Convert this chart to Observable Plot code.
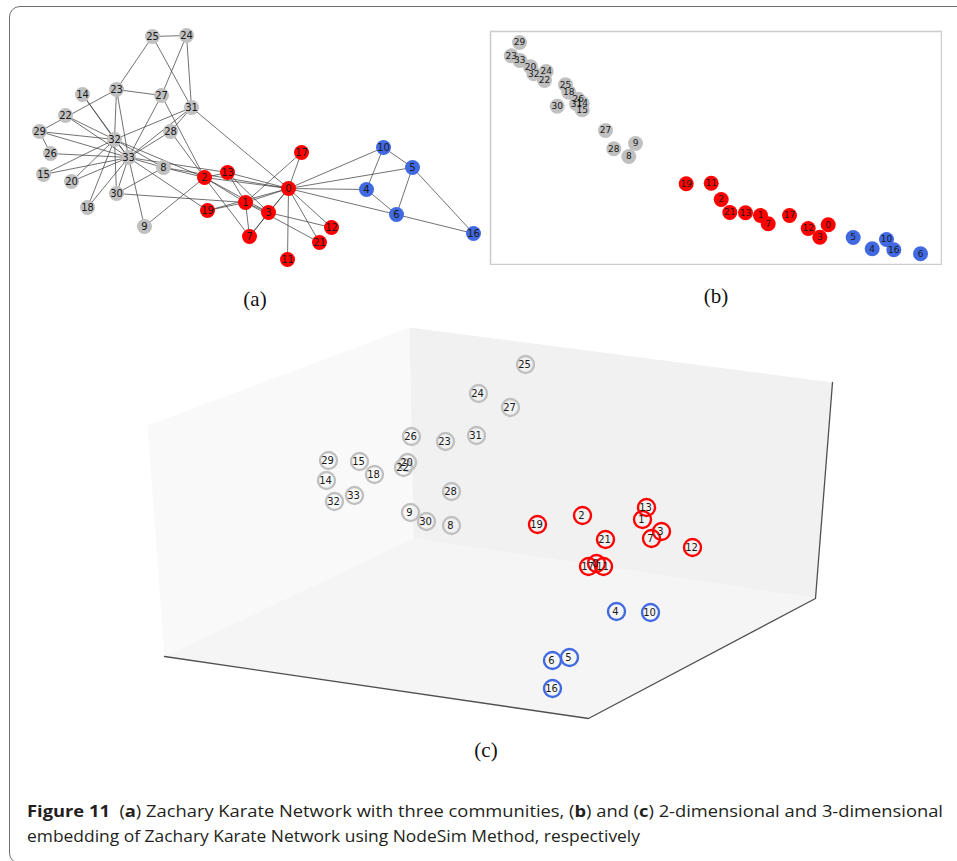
<!DOCTYPE html>
<html><head><meta charset="utf-8">
<script src="https://cdn.jsdelivr.net/npm/d3@7"></script>
<script src="https://cdn.jsdelivr.net/npm/@observablehq/plot@0.6"></script>
<style>
html,body{margin:0;padding:0;background:#fff;overflow:hidden;}
#fig{position:relative;width:957px;height:861px;overflow:hidden;background:#fff;}
#frame{position:absolute;left:9px;top:6px;width:990px;height:858px;border:1.5px solid #6e6e6e;border-radius:11px;box-sizing:border-box;}
.panel{position:absolute;}
.sub{position:absolute;font-family:"Liberation Serif","DejaVu Serif",serif;font-size:21px;color:#111;transform:translate(-50%,-50%);line-height:1;}
#cap{position:absolute;left:0;top:790px;}
</style></head><body>
<div id="fig">
  <div id="frame"></div>
  <div id="pa" class="panel" style="left:20px;top:20px"></div>
  <div id="pb" class="panel" style="left:489px;top:30px"></div>
  <div id="pc" class="panel" style="left:130px;top:320px"></div>
  <div class="sub" style="left:255px;top:299px">(a)</div>
  <div class="sub" style="left:716px;top:296px">(b)</div>
  <div class="sub" style="left:486px;top:750px">(c)</div>
  <svg id="cap" width="957" height="71" xmlns="http://www.w3.org/2000/svg"></svg>
</div>
<script>
// ---- data ----
const nodeIds = d3.range(34);
const redNodes = [0,1,2,3,7,11,12,13,17,19,21];
const blueNodes = [4,5,6,10,16];
const communityNames = ["Community 1","Community 2","Community 3"];
const communityColors = ["#c0c0c0","#ff0000","#4169e1"];

// Zachary karate club edges
const edges = [
 [0,1],[0,2],[0,3],[0,4],[0,5],[0,6],[0,7],[0,8],[0,10],[0,11],[0,12],[0,13],[0,17],[0,19],[0,21],[0,31],
 [1,2],[1,3],[1,7],[1,13],[1,17],[1,19],[1,21],[1,30],
 [2,3],[2,7],[2,8],[2,9],[2,13],[2,27],[2,28],[2,32],
 [3,7],[3,12],[3,13],[4,6],[4,10],[5,6],[5,10],[5,16],[6,16],
 [8,30],[8,32],[8,33],[9,33],[13,33],[14,32],[14,33],[15,32],[15,33],
 [18,32],[18,33],[19,33],[20,32],[20,33],[22,32],[22,33],
 [23,25],[23,27],[23,29],[23,32],[23,33],[24,25],[24,27],[24,31],[25,31],
 [26,29],[26,33],[27,33],[28,31],[28,33],[29,32],[29,33],[30,32],[30,33],[31,32],[31,33],[32,33]
];

// (a) network layout (layout units)
const layoutAX = [268,225,184,248,346,392,376,229,143,124,363,267,311,207,62,23,453,281,67,187,51,299,45,96,166,132,30,141,150,19,96,171,94,108];
const layoutAY = [168,182,157,192,169,147,194,216,147,206,127,239,207,152,74,154,213,132,187,190,161,222,95,69,15,16,133,75,111,111,173,87,119,137];

// (b) 2-D embedding
const embed2X = [337.7,270,230.7,329.3,381.7,362.7,430,277.7,138.3,145,396,220.7,317.7,255,91.7,91.7,403.3,299,78.3,195.7,40,239.3,54,20.7,55.7,75,87.7,115,123.3,29,66.7,86,43.3,29.3];
const embed2Y = [193.3,184,168,205.7,217.3,206,222.3,192.3,125,112,208,151.7,197,181.3,71.7,78.3,218.3,184,60.7,152.3,35.3,181,49,24.3,40,53.3,67.7,99,117.3,11,74.7,72.3,42.3,29];

// (c) 3-D embedding, projected
const embed3X = [466,512,452,531,486,439,422,521,321,280,520,473,562,516,196,229,422,458,244,407,277,475,273,315,348,395,281,380,321,198,296,346,204,224];
const embed3Y = [243,199,195,211,291,337,340,218,205,192,292,246,227,187,160,141,368,246,154,204,142,219,147,121,73,44,116,87,171,140,201,115,181,175];

// (c) 3-D box panes (projected corners)
const paneLeftX = [17,279,283,34],  paneLeftY = [105,7,218,336];
const paneBackX = [279,702,685,283], paneBackY = [7,62,278,218];
const paneFloorX = [34,283,685,458], paneFloorY = [336,218,278,398];
const axisLineX = [34,458,685,702],  axisLineY = [336,398,278,62];

const captionParts = [
  ["Figure 11", true], ["\u00a0\u00a0(", false], ["a", true], [") Zachary Karate Network with three communities, (", false],
  ["b", true], [") and (", false], ["c", true], [") 2-dimensional and 3-dimensional", false]
];
const captionLine2 = "embedding of Zachary Karate Network using NodeSim Method, respectively";

// ---- build ----
const comm = i => redNodes.includes(i) ? communityNames[1] : blueNodes.includes(i) ? communityNames[2] : communityNames[0];
const colorScale = {type: "ordinal", domain: communityNames, range: communityColors};
const font = {fontFamily: "DejaVu Sans"};

// (a)
const nodesA = nodeIds.map(i => ({id: i, x: layoutAX[i], y: layoutAY[i], c: comm(i)}));
const linksA = edges.map(([s, t]) => ({x1: layoutAX[s], y1: layoutAY[s], x2: layoutAX[t], y2: layoutAY[t]}));
document.getElementById("pa").append(Plot.plot({
  width: 470, height: 260, margin: 0, style: font,
  x: {domain: [0, 470], axis: null},
  y: {domain: [0, 260], reverse: true, axis: null},
  color: colorScale,
  marks: [
    Plot.link(linksA, {x1: "x1", y1: "y1", x2: "x2", y2: "y2", stroke: "#3a3a3a", strokeWidth: 0.9, strokeOpacity: 0.8}),
    Plot.dot(nodesA, {x: "x", y: "y", r: 7.5, fill: "c"}),
    Plot.text(nodesA, {x: "x", y: "y", text: "id", fontSize: 10, fill: "#1a1a1a"})
  ]
}));

// (b)
const nodesB = nodeIds.map(i => ({id: i, x: embed2X[i], y: embed2Y[i], c: comm(i)}));
document.getElementById("pb").append(Plot.plot({
  width: 453, height: 235, margin: 1, style: font,
  x: {domain: [0, 451], axis: null},
  y: {domain: [0, 233], reverse: true, axis: null},
  color: colorScale,
  marks: [
    Plot.frame({stroke: "#cccccc", strokeWidth: 1.5}),
    Plot.dot(nodesB, {x: "x", y: "y", r: 7.5, fill: "c"}),
    Plot.text(nodesB, {x: "x", y: "y", text: "id", fontSize: 9, fill: "#1a1a1a"})
  ]
}));

// (c)
const pane = (xs, ys) => xs.map((x, k) => ({x, y: ys[k]}));
const nodesC = nodeIds.map(i => ({id: i, x: embed3X[i], y: embed3Y[i], c: comm(i)}));
document.getElementById("pc").append(Plot.plot({
  width: 720, height: 410, margin: 0, style: font,
  x: {domain: [0, 720], axis: null},
  y: {domain: [0, 410], reverse: true, axis: null},
  color: colorScale,
  marks: [
    Plot.line(pane(paneLeftX, paneLeftY), {x: "x", y: "y", curve: "linear-closed", fill: "#f9f9f9", stroke: "none"}),
    Plot.line(pane(paneBackX, paneBackY), {x: "x", y: "y", curve: "linear-closed", fill: "#f1f1f1", stroke: "none"}),
    Plot.line(pane(paneFloorX, paneFloorY), {x: "x", y: "y", curve: "linear-closed", fill: "#f5f5f5", stroke: "none"}),
    Plot.line(pane(axisLineX, axisLineY), {x: "x", y: "y", stroke: "#505050", strokeWidth: 1.3}),
    Plot.dot(nodesC, {x: "x", y: "y", r: 8.5, stroke: "c", strokeWidth: 2.4, fill: "none"}),
    Plot.text(nodesC, {x: "x", y: "y", text: "id", fontSize: 10, dx: -1, fill: "#1a1a1a"})
  ]
}));

// caption
const NS = "http://www.w3.org/2000/svg";
const cap = document.getElementById("cap");
const t1 = document.createElementNS(NS, "text");
t1.setAttribute("x", 27); t1.setAttribute("y", 27);
t1.setAttribute("textLength", 916); t1.setAttribute("lengthAdjust", "spacingAndGlyphs");
t1.setAttribute("style", "font-family:'Open Sans','Noto Sans',sans-serif;font-size:16px;fill:#231f20;white-space:pre");
for (const [s, b] of captionParts) {
  const ts = document.createElementNS(NS, "tspan");
  ts.textContent = s;
  if (b) ts.setAttribute("font-weight", "bold");
  t1.append(ts);
}
cap.append(t1);
const t2 = document.createElementNS(NS, "text");
t2.setAttribute("x", 27); t2.setAttribute("y", 52);
t2.setAttribute("textLength", 613); t2.setAttribute("lengthAdjust", "spacingAndGlyphs");
t2.setAttribute("style", "font-family:'Open Sans','Noto Sans',sans-serif;font-size:16px;fill:#231f20");
t2.textContent = captionLine2;
cap.append(t2);
</script>
</body></html>
